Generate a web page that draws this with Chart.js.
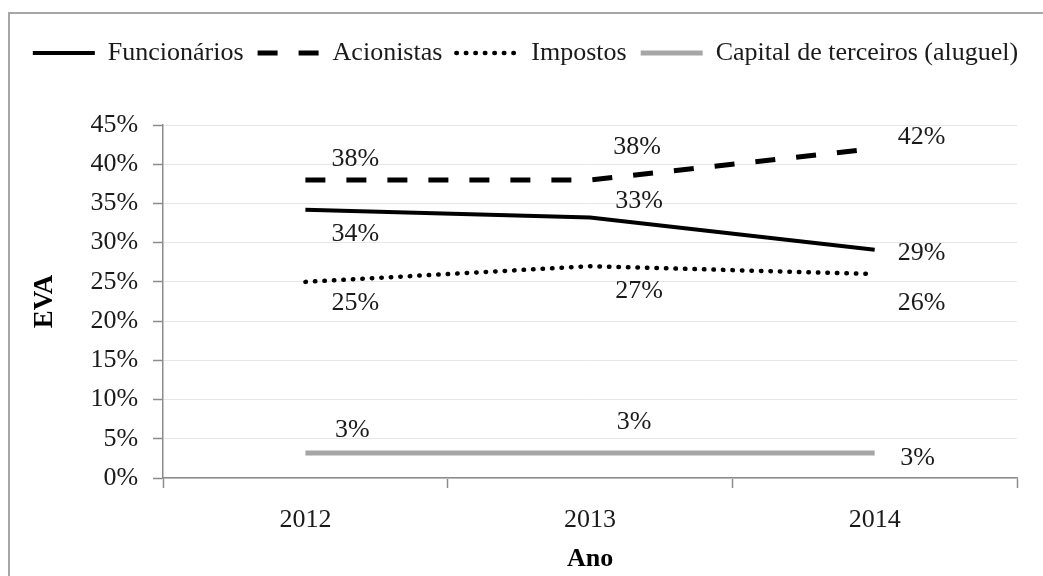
<!DOCTYPE html>
<html>
<head>
<meta charset="utf-8">
<script src="https://cdn.jsdelivr.net/npm/chart.js@4/dist/chart.umd.min.js"></script>
<style>
    body { margin: 0; background: #fff; }
    #wrap { position: relative; width: 1043px; height: 576px; overflow: hidden; }
    #frame { position: absolute; left: 8px; top: 12px; width: 1100px; height: 600px;
             border-left: 2px solid #a6a6a6; border-top: 2px solid #a6a6a6; }
    #myChart { position: absolute; left: 0; top: 0; }
</style>
</head>
<body>
<div id="wrap">
    <div id="frame"></div>
    <canvas id="myChart" width="1043" height="576"></canvas>
</div>
<script>
// dados (EVA em %)
var anos = ['2012', '2013', '2014'];
var funcionarios = [34.2, 33.2, 29.1];
var acionistas = [38.0, 38.0, 42.0];
var impostos = [25.0, 27.0, 26.0];
var capitalTerceiros = [3.2, 3.2, 3.2];
var yTicks = [0, 5, 10, 15, 20, 25, 30, 35, 40, 45];

var serif = "'Liberation Serif', 'Times New Roman', serif";

// deslocamento dos rótulos em relação ao ponto (dx, dy)
var labelOffsets = [
    [[50, 24], [49, -16], [47, 3]],
    [[50, -21], [47, -33], [47, -11]],
    [[50, 21], [49, 25], [47, 29]],
    [[47, -23], [44, -31], [43, 5]]
];

var dataLabels = {
    id: 'dataLabels',
    afterDatasetsDraw: function (chart) {
        var ctx = chart.ctx;
        ctx.save();
        ctx.font = '26px ' + serif;
        ctx.fillStyle = '#1a1a1a';
        ctx.textAlign = 'center';
        ctx.textBaseline = 'middle';
        chart.data.datasets.forEach(function (ds, i) {
            var meta = chart.getDatasetMeta(i);
            meta.data.forEach(function (pt, j) {
                var off = labelOffsets[i][j];
                ctx.fillText(Math.round(ds.data[j]) + '%', pt.x + off[0], pt.y + off[1]);
            });
        });
        ctx.restore();
    }
};

// espaço extra abaixo da legenda
var legendMargin = {
    id: 'legendMargin',
    beforeInit: function (chart) {
        var fit = chart.legend.fit;
        chart.legend.fit = function () {
            fit.bind(chart.legend)();
            this.height += 49;
        };
    }
};

var ctx = document.getElementById('myChart').getContext('2d');
var myChart = new Chart(ctx, {
    type: 'line',
    data: {
        labels: anos,
        datasets: [{
            label: 'Funcionários',
            data: funcionarios,
            borderColor: '#000',
            borderWidth: 4
        }, {
            label: 'Acionistas',
            data: acionistas,
            borderColor: '#000',
            borderWidth: 5,
            borderDash: [20, 21]
        }, {
            label: 'Impostos',
            data: impostos,
            borderColor: '#000',
            borderWidth: 4.5,
            borderDash: [0.5, 9],
            borderCapStyle: 'round'
        }, {
            label: 'Capital de terceiros (aluguel)',
            data: capitalTerceiros,
            borderColor: '#a6a6a6',
            borderWidth: 5
        }]
    },
    options: {
        responsive: false,
        animation: false,
        elements: { point: { radius: 0 }, line: { tension: 0 } },
        layout: { padding: { left: 8, right: 0, top: 26, bottom: 1 } },
        plugins: {
            tooltip: { enabled: false },
            legend: {
                position: 'top',
                labels: {
                    usePointStyle: true,
                    pointStyle: 'line',
                    pointStyleWidth: 62,
                    padding: 14,
                    color: '#1a1a1a',
                    font: { family: serif, size: 26 },
                    generateLabels: function (chart) {
                        var items = Chart.defaults.plugins.legend.labels.generateLabels(chart);
                        items.forEach(function (it) {
                            var ds = chart.data.datasets[it.datasetIndex];
                            it.strokeStyle = ds.borderColor;
                            it.lineWidth = ds.borderWidth;
                            it.lineDash = ds.borderDash || [];
                            it.lineCap = ds.borderCapStyle || 'butt';
                        });
                        return items;
                    }
                }
            }
        },
        scales: {
            x: {
                offset: true,
                grid: {
                    offset: true,
                    drawOnChartArea: false,
                    drawTicks: true,
                    tickLength: 10,
                    tickColor: '#8c8c8c',
                    tickWidth: 1.5
                },
                border: { color: '#8c8c8c', width: 1.5 },
                ticks: {
                    padding: 17,
                    color: '#1a1a1a',
                    font: { family: serif, size: 26 }
                },
                title: {
                    display: true,
                    text: 'Ano',
                    color: '#000',
                    padding: { top: 0, bottom: 0 },
                    font: { family: serif, size: 26, weight: 'bold' }
                },
                afterFit: function (axis) { axis.height = 97; }
            },
            y: {
                min: 0,
                max: 45,
                afterBuildTicks: function (axis) {
                    axis.ticks = yTicks.map(function (v) { return { value: v }; });
                },
                grid: {
                    color: '#e6e6e6',
                    lineWidth: 1,
                    tickLength: 10,
                    tickColor: '#8c8c8c',
                    tickWidth: 1.5
                },
                border: { color: '#8c8c8c', width: 1.5 },
                ticks: {
                    padding: 15,
                    color: '#1a1a1a',
                    font: { family: serif, size: 26 },
                    callback: function (v) { return v + '%'; }
                },
                title: {
                    display: true,
                    text: 'EVA',
                    color: '#000',
                    padding: { top: 21, bottom: 14 },
                    font: { family: serif, size: 27, weight: 'bold' }
                }
            },
            yRight: {
                position: 'right',
                grid: { display: false },
                border: { display: false },
                ticks: { display: false },
                afterFit: function (axis) { axis.width = 26; }
            }
        }
    },
    plugins: [dataLabels, legendMargin]
});
</script>
</body>
</html>
